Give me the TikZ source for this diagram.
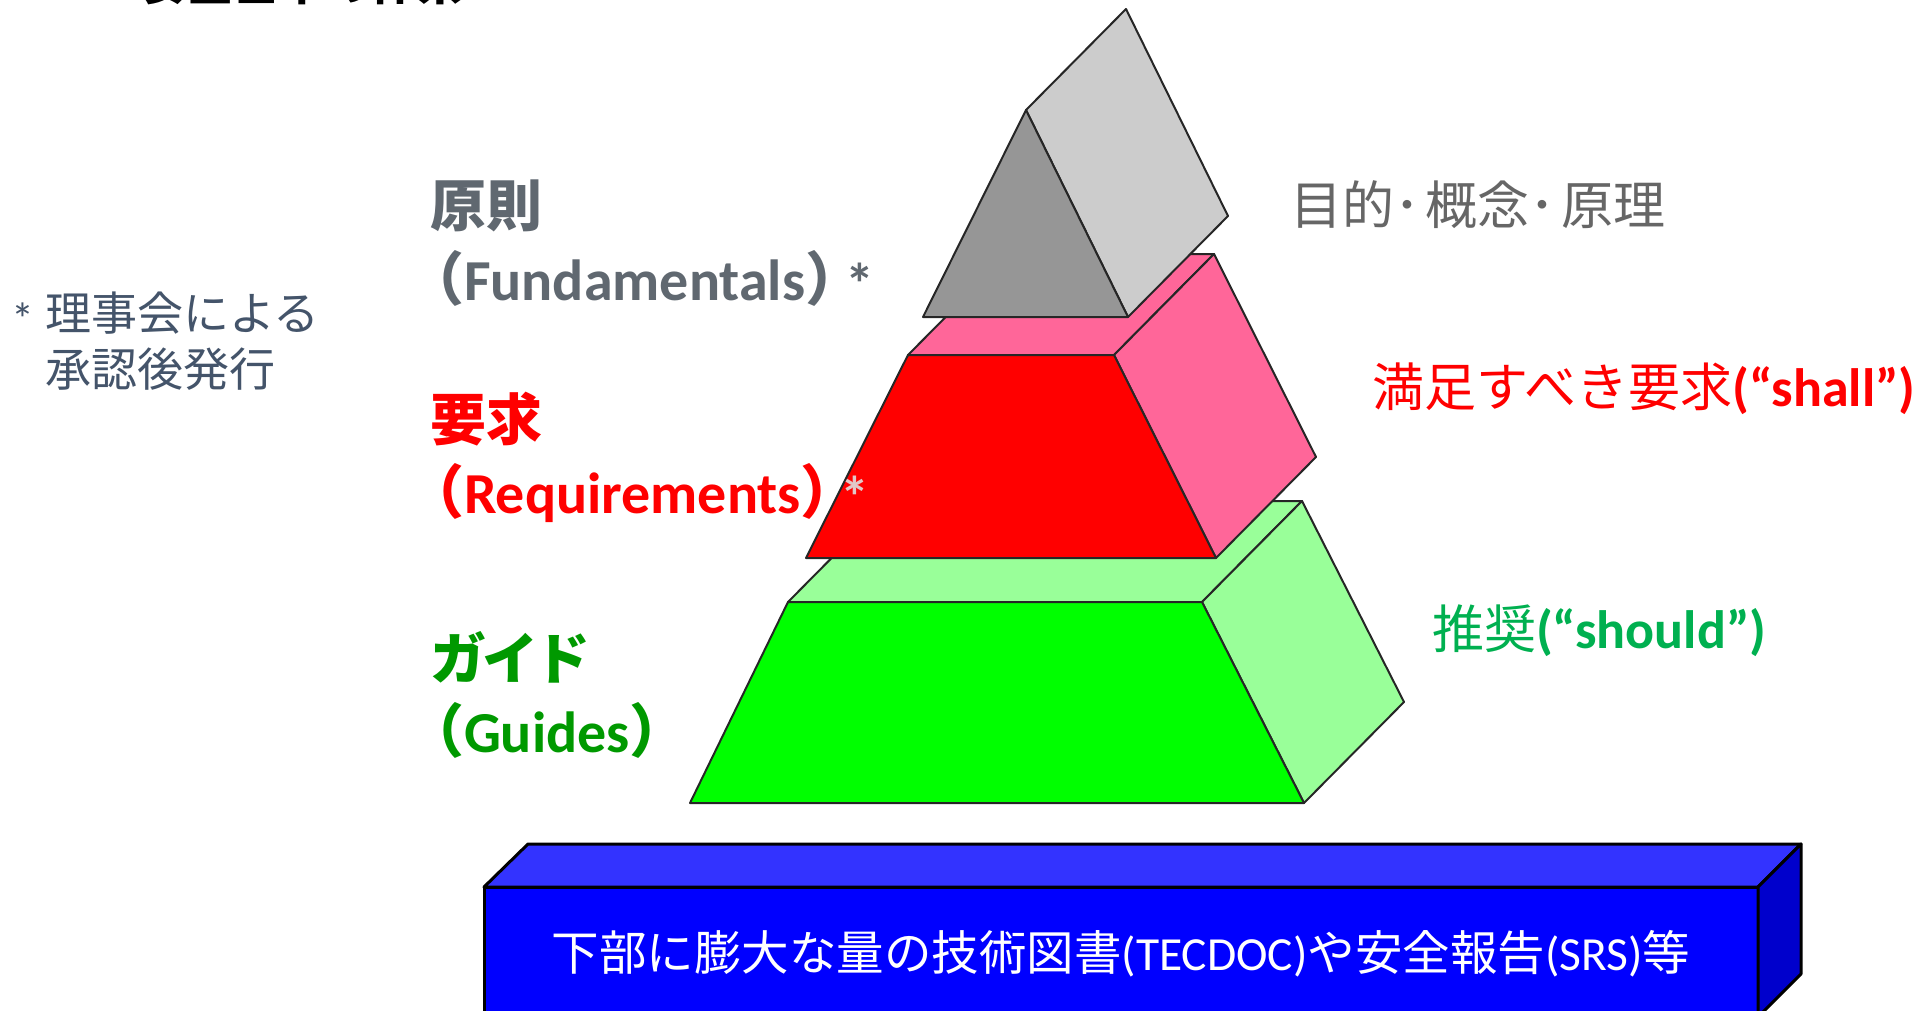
\documentclass[tikz,border=0pt]{standalone}
\usepackage{fontspec}
\setmainfont{Carlito}
\newfontfamily\cjk{Noto Sans CJK JP}
\definecolor{greyF}{RGB}{150,150,150}
\definecolor{greyS}{RGB}{204,204,204}
\definecolor{redF}{RGB}{255,0,0}
\definecolor{redS}{RGB}{255,102,153}
\definecolor{greenF}{RGB}{0,255,0}
\definecolor{greenS}{RGB}{153,255,153}
\definecolor{blueF}{RGB}{0,0,255}
\definecolor{blueT}{RGB}{51,51,255}
\definecolor{blueS}{RGB}{0,0,204}
\definecolor{labgrey}{RGB}{96,104,112}
\definecolor{labgreen}{RGB}{0,153,0}
\definecolor{rgrey}{RGB}{102,102,102}
\definecolor{rgreen}{RGB}{0,176,80}
\definecolor{notec}{RGB}{68,84,106}
\definecolor{astc}{RGB}{225,200,200}
\begin{document}
\begin{tikzpicture}[x=1pt,y=-1pt,
  edge/.style={draw=black!85, line width=2pt, line join=round},
  boxedge/.style={draw=black, line width=3pt, line join=round},
  lbl/.style={anchor=base west, inner sep=0pt, outer sep=0pt},
  bigl/.style={font=\fontsize{56}{60}\selectfont\bfseries},
  bige/.style={font=\fontsize{58}{62}\selectfont\bfseries},
  midl/.style={font=\fontsize{52}{56}\selectfont},
]
\useasboundingbox (0,0) rectangle (1927,1011);

% ---------- blue base box ----------
\coordinate (bftl) at (484,887);
\coordinate (bftr) at (1758,887);
\coordinate (bfbr) at (1758,1017);
\coordinate (bfbl) at (484,1017);
\coordinate (bbtl) at (528,844);
\coordinate (bbtr) at (1801,844);
\coordinate (bbbr) at (1801,974);
\path[fill=blueF, boxedge] (bftl) -- (bftr) -- (bfbr) -- (bfbl) -- cycle;
\path[fill=blueT, boxedge] (bftl) -- (bbtl) -- (bbtr) -- (bftr) -- cycle;
\path[fill=blueS, boxedge] (bftr) -- (bbtr) -- (bbbr) -- (bfbr) -- cycle;

% ---------- green layer ----------
\coordinate (gftl) at (788,602);
\coordinate (gftr) at (1202,602);
\coordinate (gfbl) at (690,803);
\coordinate (gfbr) at (1304,803);
\coordinate (gbtl) at (888,501);
\coordinate (gbtr) at (1302,501);
\coordinate (gbbr) at (1404,702);
\path[fill=greenS, edge] (gftl) -- (gbtl) -- (gbtr) -- (gftr) -- cycle;
\path[fill=greenS, edge] (gftr) -- (gbtr) -- (gbbr) -- (gfbr) -- cycle;
\path[fill=greenF, edge] (gftl) -- (gftr) -- (gfbr) -- (gfbl) -- cycle;

% ---------- red layer ----------
\coordinate (rftl) at (908,355);
\coordinate (rftr) at (1114,355);
\coordinate (rfbl) at (806,558);
\coordinate (rfbr) at (1216,558);
\coordinate (rbtl) at (1008,254);
\coordinate (rbtr) at (1214,254);
\coordinate (rbbr) at (1316,457);
\path[fill=redS, edge] (rftl) -- (rbtl) -- (rbtr) -- (rftr) -- cycle;
\path[fill=redS, edge] (rftr) -- (rbtr) -- (rbbr) -- (rfbr) -- cycle;
\path[fill=redF, edge] (rftl) -- (rftr) -- (rfbr) -- (rfbl) -- cycle;

% ---------- grey prism ----------
\coordinate (pa) at (1026,110);
\coordinate (pl) at (923,317);
\coordinate (pr) at (1128,317);
\coordinate (pba) at (1126,9);
\coordinate (pbr) at (1228,216);
\path[fill=greyS, edge] (pa) -- (pba) -- (pbr) -- (pr) -- cycle;
\path[fill=greyF, edge] (pa) -- (pr) -- (pl) -- cycle;

% ---------- cut-off title ----------
\node[lbl, font=\fontsize{46}{50}\selectfont\bfseries, text=black] (title) at (141,1) {\cjk 安全基準の体系};

% ---------- left labels ----------
\node[lbl, bigl, text=labgrey] (fj) at (430,226) {\cjk 原則};
\node[lbl, bige, text=labgrey] (fe) at (406,300) {{\cjk （}Fundamentals{\cjk ）}\kern-18pt\raisebox{-4pt}{*}};
\node[lbl, bigl, text=redF] (rj) at (430,440) {\cjk 要求};
\node[lbl, bige, text=redF] (re) at (406,513) {{\cjk （}Requirements{\cjk ）}\kern-18pt\raisebox{-4pt}{\color{astc}*}};
\node[lbl, bigl, text=labgreen] (gj) at (430,679) {\cjk ガ\kern-4ptイ\kern-4ptド};
\node[lbl, bige, text=labgreen] (ge) at (406,752) {{\cjk （}Guides{\cjk ）}};

% ---------- right labels ----------
\node[lbl, midl, text=rgrey] (prl) at (1290,225) {\cjk 目的･\hspace{6pt}概念･\hspace{6pt}原理};
\node[lbl, midl, text=redF] (shl) at (1372,406) {{\cjk 満足すべき要求}{\fontsize{54}{58}\selectfont\bfseries(“shall”)}};
\node[lbl, midl, text=rgreen] (sol) at (1432,648) {{\cjk 推奨}{\fontsize{54}{58}\selectfont\bfseries(“should”)}};

% ---------- note ----------
\node[lbl, font=\fontsize{46}{50}\selectfont, text=notec] (n1) at (12,330) {\raisebox{-5pt}{*} {\cjk 理事会による}};
\node[lbl, font=\fontsize{46}{50}\selectfont, text=notec] (n2) at (45,386) {\cjk 承認後発行};

% ---------- base text ----------
\node[anchor=base, inner sep=0pt, font=\fontsize{47.5}{52}\selectfont, text=white] (bt) at (1121,970)
  {{\cjk 下部に膨大な量の技術図書}(TECDOC){\cjk や安全報告}(SRS){\cjk 等}};
\end{tikzpicture}
\end{document}
